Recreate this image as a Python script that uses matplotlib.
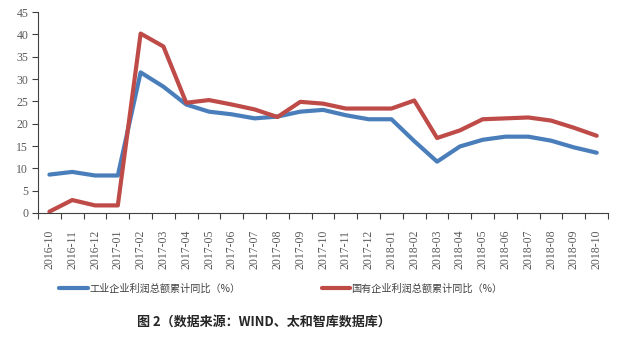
import numpy as np
import matplotlib
matplotlib.use("Agg")
import matplotlib.pyplot as plt
from matplotlib.ticker import FixedLocator
from matplotlib.font_manager import FontProperties

plt.rcParams['font.family'] = ['Noto Sans CJK SC', 'DejaVu Sans']

# monthly cumulative y/y profit growth (%)
months = ['2016-10', '2016-11', '2016-12', '2017-01', '2017-02', '2017-03', '2017-04',
          '2017-05', '2017-06', '2017-07', '2017-08', '2017-09', '2017-10', '2017-11',
          '2017-12', '2018-01', '2018-02', '2018-03', '2018-04', '2018-05', '2018-06',
          '2018-07', '2018-08', '2018-09', '2018-10']
industrial = [8.6, 9.2, 8.4, 8.4, 31.5, 28.3, 24.3, 22.7, 22.1, 21.2, 21.6, 22.7, 23.1,
              21.9, 21.0, 21.0, 16.1, 11.5, 14.9, 16.4, 17.1, 17.1, 16.2, 14.7, 13.5]
state_owned = [0.3, 2.9, 1.7, 1.7, 40.2, 37.3, 24.7, 25.3, 24.3, 23.2, 21.5, 24.9, 24.5,
               23.4, 23.4, 23.4, 25.2, 16.8, 18.5, 21.0, 21.2, 21.4, 20.7, 19.1, 17.3]
series_names = ['工业企业利润总额累计同比（%）', '国有企业利润总额累计同比（%）']
yticks = list(range(0, 50, 5))

serif = FontProperties(family='Liberation Serif', size=8.5)

fig = plt.figure(figsize=(6.19, 3.37), dpi=100)
ax = fig.add_axes([0.0614, 0.368, 0.921, 0.596])

x = np.arange(len(months))
ax.plot(x, industrial, color='#4A7EBB', lw=3.0, solid_joinstyle='round',
        solid_capstyle='round', label=series_names[0])
ax.plot(x, state_owned, color='#BE4B48', lw=3.0, solid_joinstyle='round',
        solid_capstyle='round', label=series_names[1])

ax.set_xlim(-0.5, len(months) - 0.5)
ax.set_ylim(0, 45)
ax.set_yticks(yticks)
ax.set_yticklabels([str(v) for v in yticks], fontproperties=serif, color='#595959')

# category labels centred, tick marks between categories
ax.set_xticks(x)
ax.set_xticklabels(months, rotation=90, fontproperties=serif, color='#595959')
ax.tick_params(axis='x', which='major', length=0, pad=12)
ax.xaxis.set_minor_locator(FixedLocator(np.arange(-0.5, len(months), 1.0)))
ax.tick_params(axis='x', which='minor', length=4, color='#404040', width=0.8)
ax.tick_params(axis='y', length=4, color='#404040', width=0.8, pad=3)

for side in ['top', 'right']:
    ax.spines[side].set_visible(False)
for side in ['left', 'bottom']:
    ax.spines[side].set_color('#404040')
    ax.spines[side].set_linewidth(0.8)

fig.legend(loc='center', bbox_to_anchor=(0.454, 0.143), ncol=2, frameon=False,
           fontsize=7.3, handlelength=2.8, handletextpad=0.15, columnspacing=8.0,
           labelcolor='#404040')

fig.text(0.426, 0.045, '图 2（数据来源：WIND、太和智库数据库）', ha='center',
         va='center', fontsize=9.4, fontweight='bold', color='#262626')

fig.savefig('out.png', dpi=100)
